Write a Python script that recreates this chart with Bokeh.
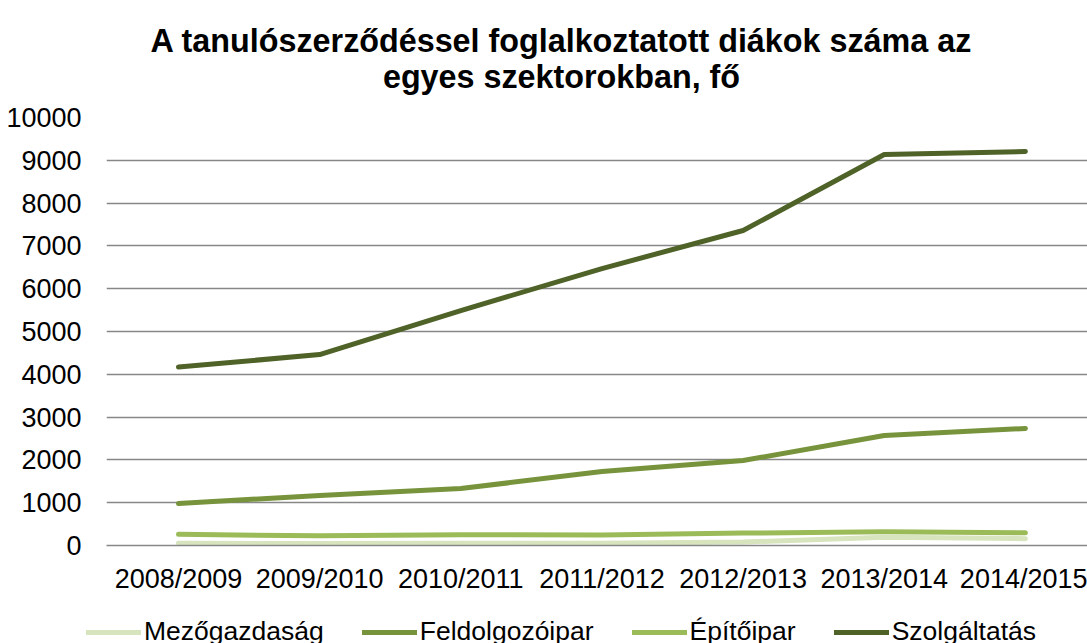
from bokeh.plotting import figure
from bokeh.models import Range1d, FixedTicker, Legend, LegendItem
from bokeh.layouts import column
from bokeh.core.properties import value
from bokeh.embed import file_html
from bokeh.resources import INLINE

years = ["2008/2009", "2009/2010", "2010/2011", "2011/2012", "2012/2013", "2013/2014", "2014/2015"]
mezogazdasag = [50, 45, 50, 55, 80, 195, 160]
feldolgozoipar = [980, 1170, 1330, 1730, 1985, 2570, 2735]
epitoipar = [260, 225, 250, 245, 290, 320, 295]
szolgaltatas = [4170, 4460, 5490, 6470, 7360, 9135, 9205]
y_ticks = [0, 1000, 2000, 3000, 4000, 5000, 6000, 7000, 8000, 9000, 10000]
title_lines = ["A tanulószerződéssel foglalkoztatott diákok száma az", "egyes szektorokban, fő"]

series = [
    ("Mezőgazdaság", mezogazdasag, "#d7e4bd"),
    ("Feldolgozóipar", feldolgozoipar, "#77933c"),
    ("Építőipar", epitoipar, "#9bbb59"),
    ("Szolgáltatás", szolgaltatas, "#4f6228"),
]

FONT = "Liberation Sans"
W = 1087
xs = list(range(len(years)))

# --- title panel (page pixel coordinates) ---
t = figure(width=W, height=100, output_backend="svg", toolbar_location=None,
           x_range=Range1d(0, W), y_range=Range1d(100, 0),
           x_axis_location=None, y_axis_location=None, min_border=0, frame_align=False)
t.outline_line_color = None
t.grid.visible = False
t.text(x=[561, 561], y=[40, 76], text=title_lines, text_align="center",
       text_baseline="alphabetic", text_font=value(FONT), text_font_style="bold",
       text_font_size="32.3px", text_color="black")

# --- main chart ---
p = figure(width=W, height=500, output_backend="svg", toolbar_location=None,
           x_range=Range1d(-0.51, 6.44), y_range=Range1d(0, 10000),
           min_border_left=106, min_border_right=0, min_border_top=17, min_border_bottom=55,
           frame_align=False)
p.outline_line_color = None

p.xgrid.grid_line_color = None
p.ygrid.grid_line_color = "#878787"
p.ygrid.grid_line_width = 1.5
p.ygrid.ticker = FixedTicker(ticks=y_ticks)

p.yaxis.ticker = FixedTicker(ticks=y_ticks)
p.yaxis.axis_line_color = None
p.yaxis.major_tick_line_color = None
p.yaxis.minor_tick_line_color = None
p.yaxis.major_label_standoff = 19
p.yaxis.major_label_text_font = FONT
p.yaxis.major_label_text_font_size = "27px"
p.yaxis.major_label_text_color = "black"

p.xaxis.ticker = FixedTicker(ticks=xs)
p.xaxis.major_label_overrides = {i: y for i, y in enumerate(years)}
p.xaxis.axis_line_color = "#878787"
p.xaxis.axis_line_width = 1.5
p.xaxis.major_tick_line_color = None
p.xaxis.minor_tick_line_color = None
p.xaxis.major_label_standoff = 12
p.xaxis.major_label_text_font = FONT
p.xaxis.major_label_text_font_size = "27px"
p.xaxis.major_label_text_color = "black"

for name, vals, color in series:
    p.line(xs, vals, line_color=color, line_width=5, line_cap="round", line_join="round")

# --- legend panel (series lines lie outside its view; only the key is visible) ---
lg = figure(width=W, height=43, output_backend="svg", toolbar_location=None,
            x_range=Range1d(0, 1), y_range=Range1d(-2, -1),
            x_axis_location=None, y_axis_location=None, min_border=0, frame_align=False)
lg.outline_line_color = None
lg.grid.visible = False
items = []
for name, vals, color in series:
    r = lg.line(xs, vals, line_color=color, line_width=5, line_cap="round")
    items.append(LegendItem(label=name, renderers=[r]))
legend = Legend(items=items, orientation="horizontal", location=(86, -4),
                glyph_width=55, glyph_height=20, label_height=20, label_standoff=3, spacing=38,
                padding=0, margin=0, border_line_alpha=0, background_fill_alpha=0,
                label_text_font=FONT, label_text_font_size="26.5px", label_text_color="black")
lg.add_layout(legend, "center")

layout = column(t, p, lg, spacing=0)
open("out.html", "w").write(file_html(layout, INLINE))
